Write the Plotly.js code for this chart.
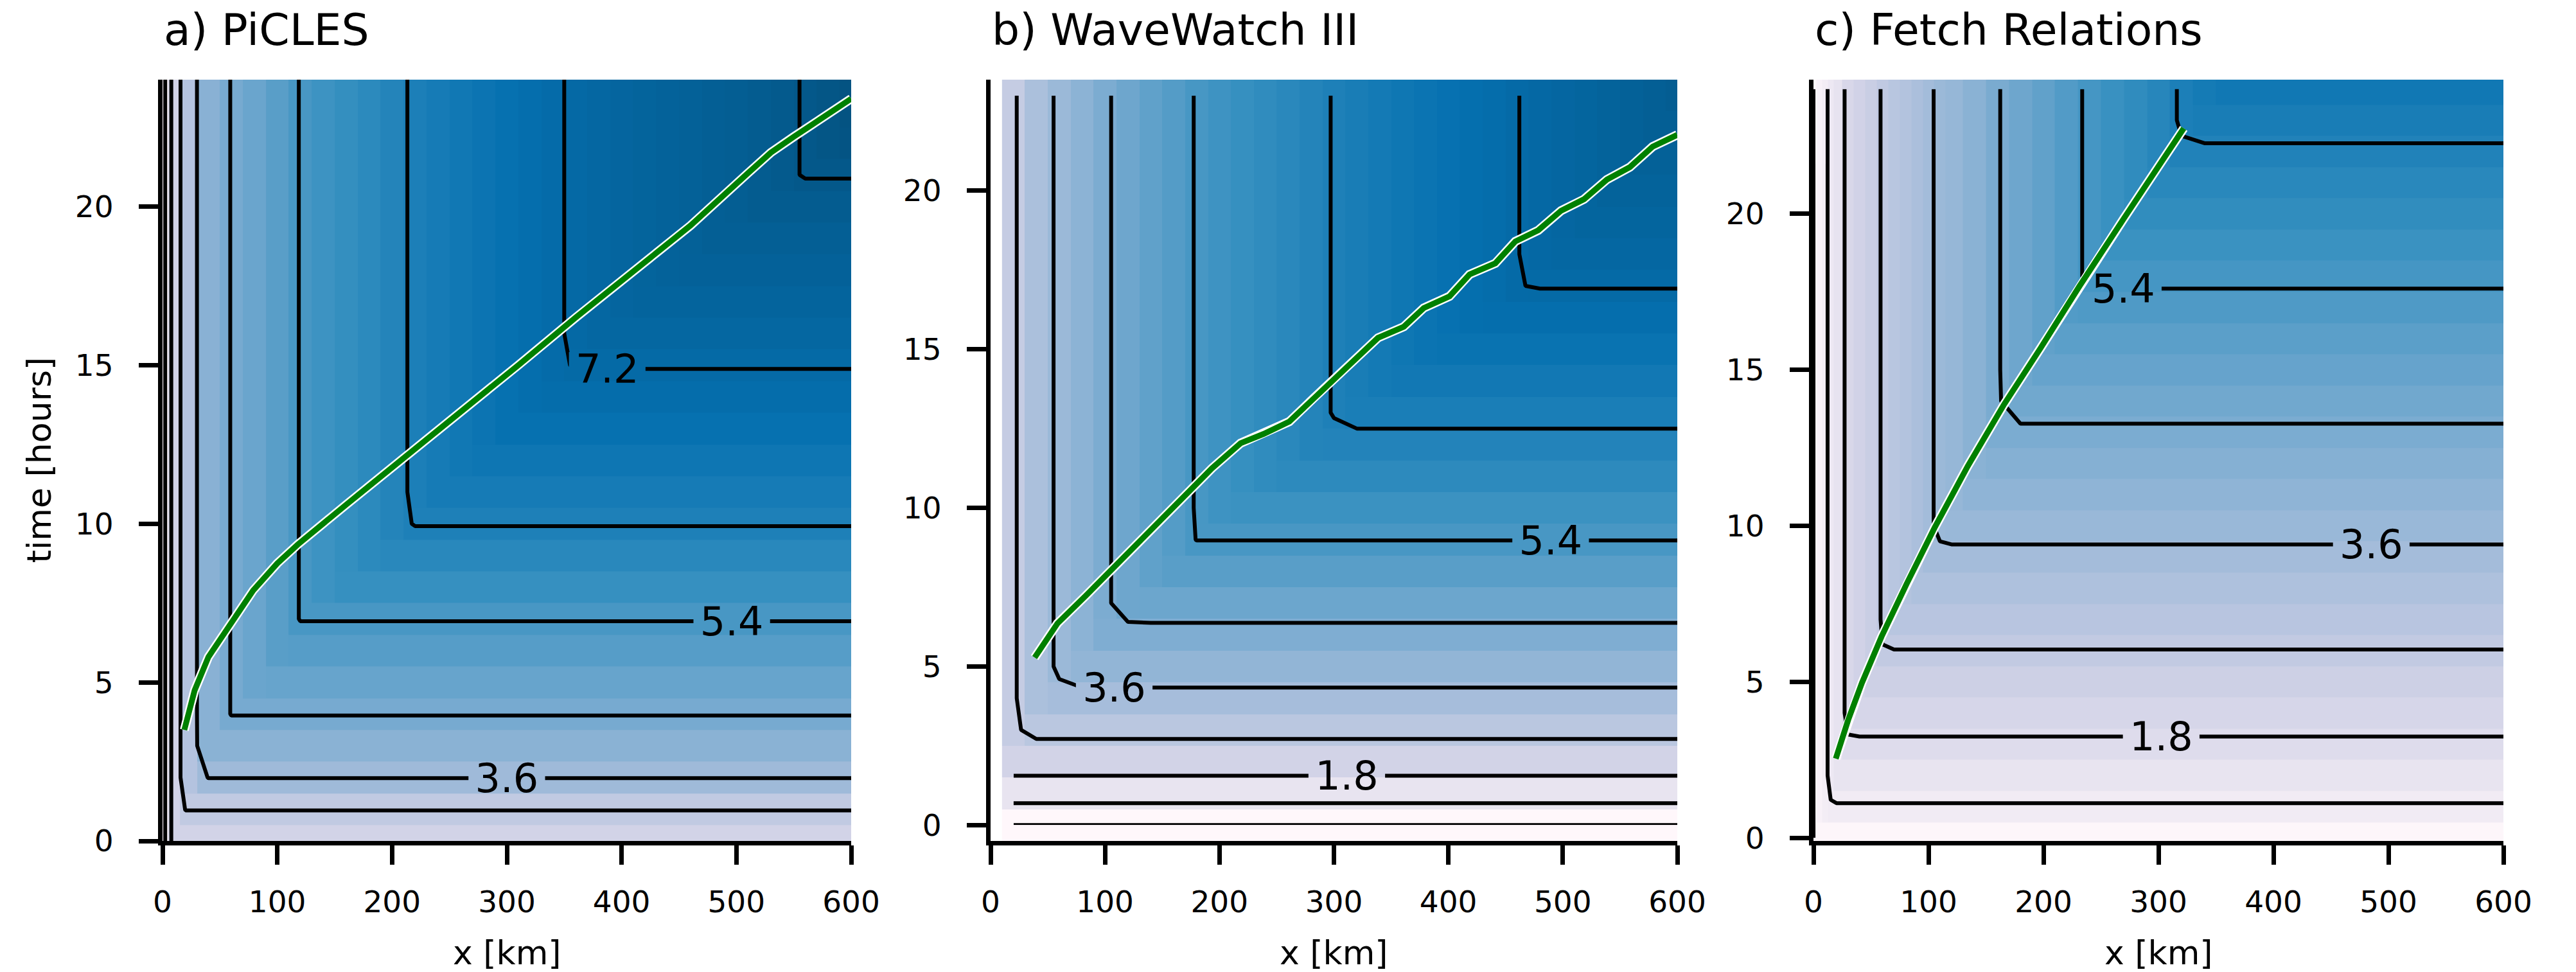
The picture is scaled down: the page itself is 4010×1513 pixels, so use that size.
<!DOCTYPE html>
<html>
<head>
<meta charset="utf-8">
<script src="https://cdn.plot.ly/plotly-3.0.1.min.js"></script>
<style>html,body{margin:0;padding:0;background:#fff;}</style>
</head>
<body>
<div id="chart" style="width:4010px;height:1513px;"></div>
<script>
// ---------------- Panel a) PiCLES ----------------
const aX = [0,10,20,40,60,80,100,120,140,160,180,200,220,240,260,280,300,320,340,360,380,400,420,440,460,480,500,520,540,560,580,600];
const aT = [0,1,2,3,4,5,6,7,8,9,10,11,12,13,14,15,16,17,18,19,20,21,22,23,24];
// fetch-limited wave height (m) along x, read where contours are vertical
const aFetchHs = [0.5,2.2,3.08,4.12,4.52,4.78,5.1,5.42,5.62,5.8,5.98,6.18,6.36,6.5,6.62,6.74,6.88,7.0,7.14,7.26,7.36,7.45,7.55,7.63,7.7,7.78,7.86,7.94,8.04,8.12,8.2,8.28];
// duration-limited wave height (m) along time, read where contours are horizontal
const aDurationHs = [2.2,2.72,3.62,4.1,4.52,4.85,5.15,5.42,5.75,6.05,6.32,6.5,6.7,6.88,7.05,7.22,7.38,7.52,7.66,7.8,7.95,8.12,8.25,8.38,8.5];
const aTrackX = [19,28,40,52,62,79,100,118,160,210,260,310,360,410,460,510,530,550,600];
const aTrackT = [3.5,4.75,5.8,6.45,7.0,7.9,8.75,9.35,10.6,12.05,13.55,15.0,16.5,17.95,19.4,21.05,21.7,22.2,23.4];

// ---------------- Panel b) WaveWatch III ----------------
const bX = [20,40,60,80,100,120,140,160,180,200,220,240,260,280,300,320,340,360,380,400,420,440,460,480,500,520,540,560,580,600];
const bT = [0,1,2,3,4,5,6,7,8,9,10,11,12,13,14,15,16,17,18,19,20,21,22,23];
const bFetchHs = [2.6,3.3,3.7,4.05,4.42,4.72,4.98,5.2,5.43,5.6,5.75,5.9,6.04,6.18,6.32,6.44,6.55,6.66,6.76,6.86,6.96,7.07,7.19,7.3,7.4,7.5,7.6,7.7,7.8,7.9];
const bDurationHs = [0.0,1.3,2.2,2.9,3.45,3.9,4.35,4.75,5.1,5.41,5.65,5.95,6.2,6.4,6.6,6.8,7.0,7.22,7.35,7.48,7.6,7.7,7.8,7.9];
const bTrackX = [38.5,58.5,83.5,118.5,158.5,193.5,218.5,238.5,261,283.5,318.5,338.5,361,378.5,401,418.5,441,458.5,478.5,498.5,518.5,538.5,558.5,578.5,600];
const bTrackT = [5.28,6.36,7.24,8.51,9.98,11.25,12.04,12.33,12.72,13.5,14.72,15.36,15.71,16.3,16.67,17.36,17.71,18.4,18.75,19.37,19.73,20.35,20.74,21.39,21.76];

// ---------------- Panel c) Fetch Relations ----------------
const cX = [0,5,10,15,20,30,40,50,60,70,80,90,100,110,120,140,160,180,200,220,240,260,280,300,320,340,360,380,400,450,500,550,600];
const cT = [0,1,2,3,4,5,6,7,8,9,10,11,12,13,14,15,16,17,18,19,20,21,22,23,24];
const cFetchHs = [0.0,0.4,0.75,1.08,1.37,1.98,2.25,2.5,2.74,2.95,3.1,3.32,3.52,3.7,3.82,4.1,4.47,4.72,4.95,5.23,5.48,5.7,5.9,6.1,6.35,6.52,6.7,6.88,7.05,7.45,7.82,8.17,8.5];
const cDurationHs = [0.1,0.85,1.3,1.72,2.05,2.37,2.69,2.97,3.23,3.5,3.75,3.97,4.2,4.44,4.66,4.86,5.07,5.28,5.48,5.67,5.86,6.05,6.25,6.44,6.61];
const cTrackX = [19.4,30.1,42.2,59.2,81,105.2,134.3,165.9,197.4,231.3,270.1,322];
const cTrackT = [2.54,3.77,4.97,6.45,8.14,9.93,11.92,13.9,15.69,17.68,19.86,22.74];

const panelTitles = ['a) PiCLES','b) WaveWatch III','c) Fetch Relations'];

// ------------------------------------------------------------
const PuBu = [[0,'#fff7fb'],[0.125,'#ece7f2'],[0.25,'#d0d1e6'],[0.375,'#a6bddb'],[0.5,'#74a9cf'],[0.625,'#3690c0'],[0.75,'#0570b0'],[0.875,'#045a8d'],[1,'#023858']];
const FONT = 'DejaVu Sans, Verdana, sans-serif';

function grid(fetchHs, durHs){
  return durHs.map(d => fetchHs.map(f => Math.min(f, d)));
}

function panelTraces(x, t, fetchHs, durHs, trackX, trackT, xa, ya, labStart){
  const z = grid(fetchHs, durHs);
  const base = {x:x, y:t, z:z, xaxis:xa, yaxis:ya, hoverinfo:'skip', showscale:false, showlegend:false};
  return [
    Object.assign({}, base, {type:'heatmap', colorscale:PuBu, zmin:0, zmax:9.2, zsmooth:false}),
    Object.assign({}, base, {type:'contour', autocontour:false,
      contours:{start:0.9, end:8.1, size:1.8, coloring:'none', showlabels:false},
      line:{color:'#000', width:6, smoothing:0}}),
    Object.assign({}, base, {type:'contour', autocontour:false,
      contours:{start:labStart, end:7.3, size:1.8, coloring:'none', showlabels:true,
        labelfont:{family:FONT, size:62, color:'#000'}, labelformat:'.1f'},
      line:{color:'#000', width:6, smoothing:0}}),
    {type:'scatter', mode:'lines', x:trackX, y:trackT, xaxis:xa, yaxis:ya, hoverinfo:'skip', showlegend:false,
      line:{color:'#ffffff', width:14}},
    {type:'scatter', mode:'lines', x:trackX, y:trackT, xaxis:xa, yaxis:ya, hoverinfo:'skip', showlegend:false,
      line:{color:'#008000', width:9}}
  ];
}

const data = [].concat(
  panelTraces(aX, aT, aFetchHs, aDurationHs, aTrackX, aTrackT, 'x', 'y', 1.8),
  panelTraces(bX, bT, bFetchHs, bDurationHs, bTrackX, bTrackT, 'x2', 'y2', 0.001),
  panelTraces(cX, cT, cFetchHs, cDurationHs, cTrackX, cTrackT, 'x3', 'y3', 0.001)
);

const W = 4010, H = 1513;
const xDomains = [[253/W, 1325/W], [1542/W, 2611/W], [2823/W, 3897/W]];
const yDomain = [1 - 1309/H, 1 - 124/H];
const yRanges = [[0,24], [-0.5,23.5], [-0.1,24.3]];

function axisBase(){
  return {showline:true, linecolor:'#000', linewidth:7, ticks:'outside', ticklen:30, tickwidth:7,
    tickcolor:'#000', showgrid:false, zeroline:false, fixedrange:true,
    tickfont:{family:FONT, size:47, color:'#000'}};
}

const layout = {
  width:W, height:H, margin:{l:0, r:0, t:0, b:0},
  paper_bgcolor:'#fff', plot_bgcolor:'#fff',
  font:{family:FONT, color:'#000'},
  showlegend:false,
  annotations:[]
};

for (let i = 0; i < 3; i++){
  const sx = i === 0 ? '' : String(i+1);
  layout['xaxis'+sx] = Object.assign(axisBase(), {domain:xDomains[i], range:[0,600], tick0:0, dtick:100,
    anchor:'y'+sx, ticklabelstandoff:18});
  layout['yaxis'+sx] = Object.assign(axisBase(), {domain:yDomain, range:yRanges[i], tick0:0, dtick:5,
    anchor:'x'+sx, ticklabelstandoff:30});
  layout.annotations.push({text:panelTitles[i], xref:'paper', yref:'paper', x:xDomains[i][0], y:1 - 88/H,
    xanchor:'left', yanchor:'bottom', showarrow:false, font:{family:FONT, size:68, color:'#000'}});
  layout.annotations.push({text:'x [km]', xref:'paper', yref:'paper', x:(xDomains[i][0]+xDomains[i][1])/2,
    y:1 - 1483/H, xanchor:'center', yanchor:'middle', showarrow:false, font:{family:FONT, size:52, color:'#000'}});
}
layout.annotations.push({text:'time [hours]', xref:'paper', yref:'paper', x:60/W, y:(yDomain[0]+yDomain[1])/2,
  xanchor:'center', yanchor:'middle', textangle:-90, showarrow:false, font:{family:FONT, size:52, color:'#000'}});

Plotly.newPlot('chart', data, layout, {staticPlot:true, displayModeBar:false});
</script>
</body>
</html>
